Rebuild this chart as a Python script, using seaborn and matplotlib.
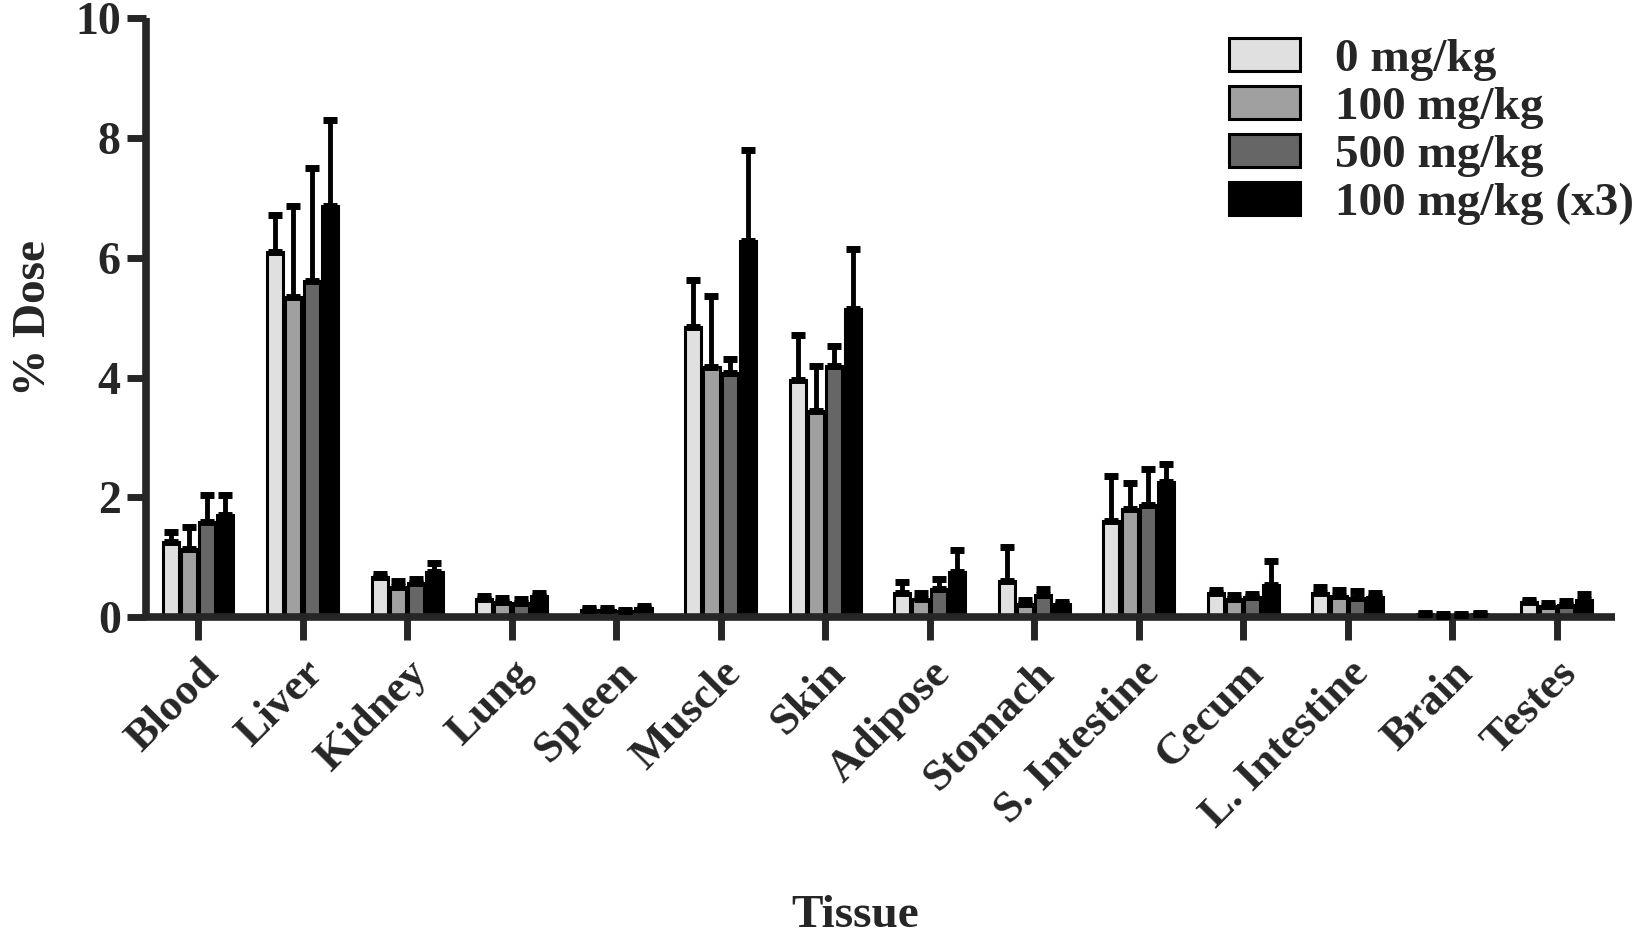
import numpy as np
import pandas as pd
import seaborn as sns
import matplotlib.pyplot as plt

# tissues and groups
tissues = ['Blood', 'Liver', 'Kidney', 'Lung', 'Spleen', 'Muscle', 'Skin', 'Adipose',
           'Stomach', 'S. Intestine', 'Cecum', 'L. Intestine', 'Brain', 'Testes']
groups = ['0 mg/kg', '100 mg/kg', '500 mg/kg', '100 mg/kg (x3)']
colors = ['#e0e0e0', '#a0a0a0', '#666666', '#000000']

# % dose means and upper error
dose_0 = [1.26, 6.10, 0.68, 0.31, 0.12, 4.85, 3.96, 0.40, 0.60, 1.60, 0.40, 0.40, 0.05, 0.25]
err_0 = [0.17, 0.61, 0.04, 0.04, 0.03, 0.78, 0.75, 0.19, 0.58, 0.76, 0.06, 0.11, 0.02, 0.04]
dose_100 = [1.14, 5.35, 0.51, 0.26, 0.13, 4.18, 3.44, 0.31, 0.23, 1.80, 0.31, 0.36, 0.03, 0.19]
err_100 = [0.36, 1.51, 0.09, 0.06, 0.03, 1.18, 0.75, 0.10, 0.06, 0.44, 0.07, 0.09, 0.02, 0.05]
dose_500 = [1.59, 5.61, 0.57, 0.24, 0.10, 4.08, 4.20, 0.48, 0.37, 1.88, 0.34, 0.32, 0.04, 0.21]
err_500 = [0.45, 1.89, 0.07, 0.06, 0.03, 0.23, 0.32, 0.16, 0.11, 0.60, 0.05, 0.12, 0.02, 0.06]
dose_x3 = [1.71, 6.86, 0.75, 0.35, 0.15, 6.28, 5.15, 0.75, 0.22, 2.25, 0.54, 0.34, 0.05, 0.29]
err_x3 = [0.33, 1.44, 0.15, 0.06, 0.04, 1.52, 1.00, 0.38, 0.04, 0.30, 0.40, 0.07, 0.02, 0.10]

means = [dose_0, dose_100, dose_500, dose_x3]
errs = [err_0, err_100, err_500, err_x3]

rows = []
for g, vals in zip(groups, means):
    for t, v in zip(tissues, vals):
        rows.append({'Tissue': t, 'Group': g, 'Dose': v})
df = pd.DataFrame(rows)

sns.set_style('ticks')
plt.rcParams['font.family'] = ['Liberation Serif', 'DejaVu Serif']
plt.rcParams['font.weight'] = 'bold'

fig = plt.figure(figsize=(16.32, 9.34), dpi=100)
ax = fig.add_axes([0.0893, 0.339, 0.9005, 0.642])

sns.barplot(data=df, x='Tissue', y='Dose', hue='Group', order=tissues, hue_order=groups,
            palette=colors, edgecolor='black', linewidth=2.2, errorbar=None,
            width=0.7, gap=0.12, saturation=1, legend=False, ax=ax)
bar_conts = list(ax.containers)

# one-sided error bars on top of each bar
for cont, e in zip(bar_conts, errs):
    for bar, sd in zip(cont, e):
        xc = bar.get_x() + bar.get_width() / 2
        h = bar.get_height()
        ax.errorbar(xc, h, yerr=[[0], [sd]], fmt='none', ecolor='black',
                    elinewidth=3.5, capsize=5, capthick=5, zorder=5, clip_on=False)

ax.set_ylim(0, 10)
ax.set_xlim(-0.5, 13.56)
ax.set_yticks([0, 2, 4, 6, 8, 10])
ax.tick_params(axis='y', length=14, width=5, labelsize=33, pad=4)
ax.tick_params(axis='x', length=16.5, width=5, labelsize=32, pad=9)
for lab in ax.get_xticklabels():
    lab.set_rotation(45)
    lab.set_ha('right')
    lab.set_rotation_mode('anchor')
    lab.set_fontweight('bold')
for lab in ax.get_yticklabels():
    lab.set_fontweight('bold')

sns.despine(ax=ax)
for s in ['left', 'bottom']:
    ax.spines[s].set_linewidth(5.5)
    ax.spines[s].set_capstyle('butt')

ax.set_xlabel('Tissue', fontsize=34, fontweight='bold')
ax.set_ylabel('% Dose', fontsize=34, fontweight='bold')
ax.xaxis.set_label_coords(0.483, -0.463)
ax.yaxis.set_label_coords(-0.062, 0.5)

ax.legend([c.patches[0] for c in bar_conts], groups, loc='upper left',
          bbox_to_anchor=(0.737, 0.967), frameon=False, fontsize=34,
          handlelength=1.5, handleheight=0.72, labelspacing=0.1, handletextpad=0.74,
          borderaxespad=0, borderpad=0)

fig.savefig('out.png', dpi=100)
